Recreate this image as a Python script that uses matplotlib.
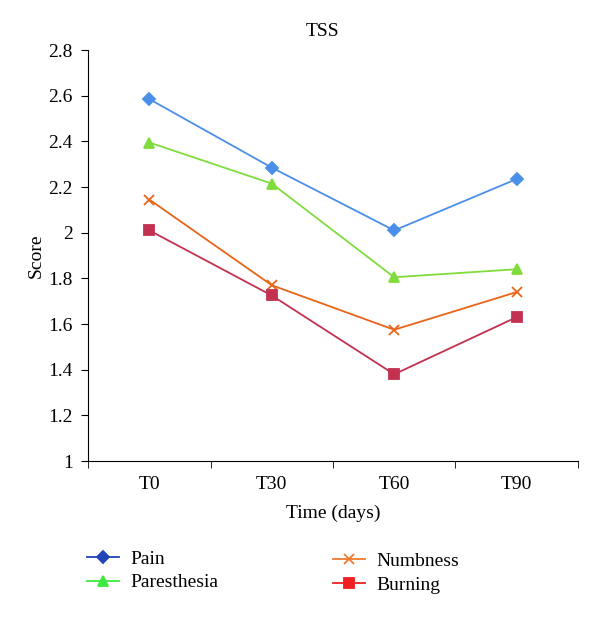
import matplotlib.pyplot as plt
from matplotlib.lines import Line2D

plt.rcParams['font.family'] = ['Liberation Serif', 'DejaVu Serif']
plt.rcParams['font.size'] = 14

times = ["T0", "T30", "T60", "T90"]
pain = [2.585, 2.285, 2.01, 2.235]
paresthesia = [2.395, 2.215, 1.805, 1.84]
numbness = [2.145, 1.77, 1.575, 1.74]
burning = [2.01, 1.725, 1.38, 1.63]

series = [
    ("Pain", pain, "D", "#4a8fe8", "#1f45b8", 6),
    ("Paresthesia", paresthesia, "^", "#80dc3c", "#3ee83e", 7),
    ("Numbness", numbness, "x", "#ea6418", "#f07a30", 7),
    ("Burning", burning, "s", "#c23150", "#f02020", 7),
]

fig = plt.figure(figsize=(6, 6.18), dpi=100)
ax = fig.add_axes([0.147, 0.254, 0.816, 0.665])

x = list(range(len(times)))
handles = []
for name, vals, mk, col, lcol, ms in series:
    ax.plot(x, vals, color=col, marker=mk, markersize=ms, linewidth=1.3,
            markeredgewidth=1.3)
    handles.append(Line2D([], [], color=lcol, marker=mk, markersize=ms,
                          linewidth=1.3, markeredgewidth=1.3, label=name))

ax.set_xlim(-0.5, 3.5)
ax.set_ylim(1, 2.8)
ax.set_yticks([1, 1.2, 1.4, 1.6, 1.8, 2, 2.2, 2.4, 2.6, 2.8])
ax.set_yticklabels(["1", "1.2", "1.4", "1.6", "1.8", "2", "2.2", "2.4", "2.6", "2.8"])
ax.set_xticks(x)
ax.set_xticklabels(times)
ax.set_xticks([-0.5, 0.5, 1.5, 2.5, 3.5], minor=True)
ax.tick_params(axis='x', which='major', length=0, pad=11)
ax.tick_params(axis='x', which='minor', length=5, direction='out')
ax.tick_params(axis='y', length=5, direction='out', pad=6)
ax.spines['top'].set_visible(False)
ax.spines['right'].set_visible(False)
fig.text(323 / 600, 1 - 31 / 618, "TSS", fontsize=14, ha='center', va='center')
ax.set_ylabel("Score", fontsize=14, labelpad=3)
ax.set_xlabel("Time (days)", fontsize=14, labelpad=8)

fig.legend(handles=handles[:2], loc='upper left', bbox_to_anchor=(0.145, 0.11),
           frameon=False, fontsize=14, handlelength=1.65, handletextpad=0.6,
           labelspacing=0.32, borderpad=0, borderaxespad=0)
fig.legend(handles=handles[2:], loc='upper left', bbox_to_anchor=(0.555, 0.106),
           frameon=False, fontsize=14, handlelength=1.65, handletextpad=0.6,
           labelspacing=0.32, borderpad=0, borderaxespad=0)

fig.savefig("out.png", dpi=100, facecolor='white')
